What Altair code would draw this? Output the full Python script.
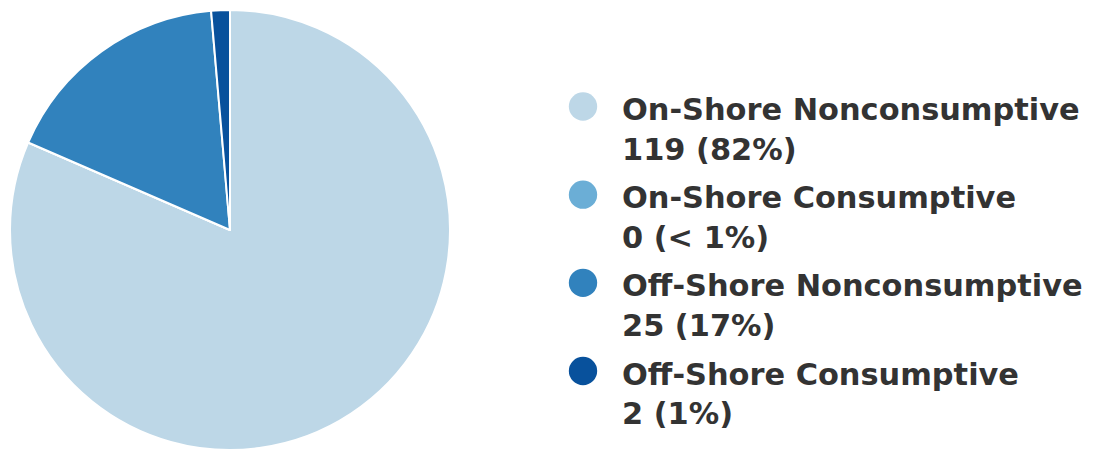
import altair as alt
import pandas as pd

categories = [
    "On-Shore Nonconsumptive",
    "On-Shore Consumptive",
    "Off-Shore Nonconsumptive",
    "Off-Shore Consumptive",
]
counts = [119, 0, 25, 2]
pct_labels = ["82%", "< 1%", "17%", "1%"]
colors = ["#bdd7e7", "#6baed6", "#3182bd", "#08519c"]

df = pd.DataFrame({
    "category": categories,
    "count": counts,
    "order": list(range(len(categories))),
    "detail": [f"{c} ({p})" for c, p in zip(counts, pct_labels)],
})

color_scale = alt.Scale(domain=categories, range=colors)

pie = alt.Chart(df).mark_arc(
    stroke="white", strokeWidth=2, strokeJoin="round", outerRadius=220
).encode(
    theta=alt.Theta("count:Q", stack=True),
    color=alt.Color("category:N", scale=color_scale, sort=categories, legend=None),
    order=alt.Order("order:Q"),
).properties(width=444, height=444)

ypos = alt.Y("category:N", sort=categories, axis=None,
             scale=alt.Scale(type="point", range=[98.5, 363], padding=0))

base = alt.Chart(df).encode(y=ypos)

symbols = base.mark_point(filled=True, shape="circle", size=804, opacity=1).encode(
    x=alt.value(33),
    color=alt.Color("category:N", scale=color_scale, sort=categories, legend=None),
)

name_text = base.mark_text(
    align="left", baseline="alphabetic", dy=13.5,
    font="DejaVu Sans", fontWeight="bold", fontSize=30.4, color="#333333",
).encode(x=alt.value(72), text="category:N")

detail_text = base.mark_text(
    align="left", baseline="alphabetic", dy=53,
    font="DejaVu Sans", fontWeight="bold", fontSize=30.4, color="#333333",
).encode(x=alt.value(72), text="detail:N")

legend = alt.layer(symbols, name_text, detail_text).properties(width=530, height=440)

chart = alt.hconcat(pie, legend, spacing=98).properties(
    padding=0
).configure_view(stroke=None)

chart.save("out.html", embed_options={"renderer": "svg", "actions": False})
